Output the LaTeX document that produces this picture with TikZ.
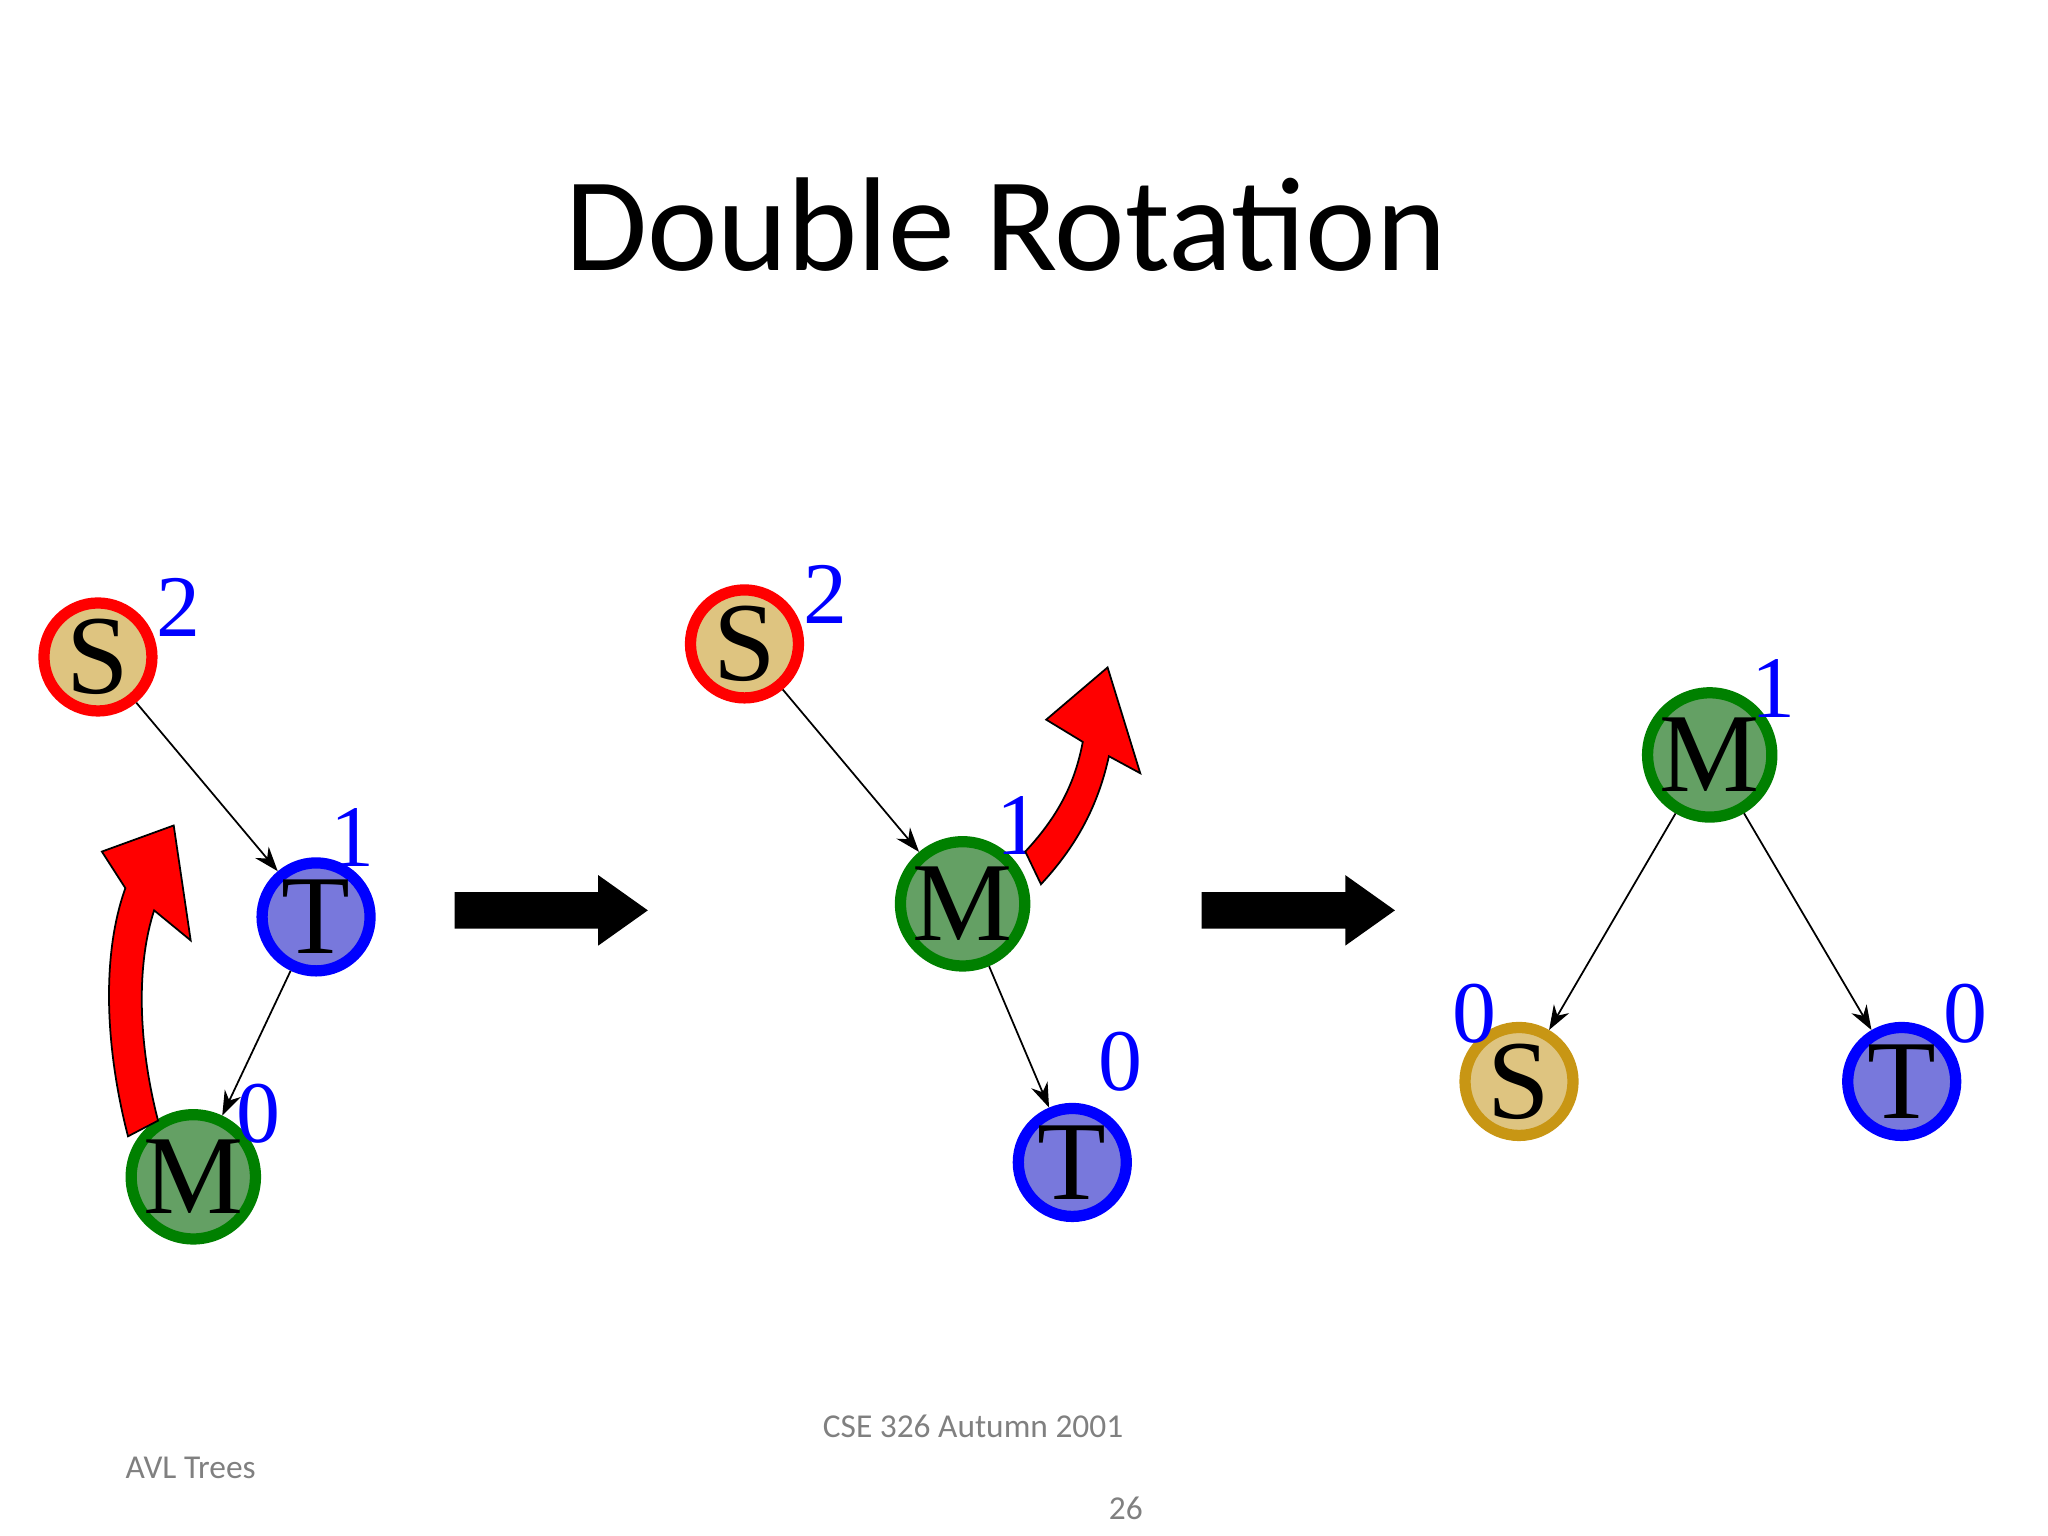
\documentclass[tikz,border=0pt]{standalone}
\usepackage{fontspec}
\setmainfont{Liberation Serif}
\newfontfamily\titlefont{Carlito}
\usetikzlibrary{arrows.meta}
\definecolor{sfill}{RGB}{222,196,128}
\definecolor{mfill}{RGB}{100,160,100}
\definecolor{tfill}{RGB}{120,120,220}
\definecolor{mline}{RGB}{0,128,0}
\definecolor{sgold}{RGB}{200,150,20}
\tikzset{
 tn/.style={circle,line width=3.2pt,minimum size=1.08cm,inner sep=0pt,font=\fontsize{32}{32}\selectfont},
 sn/.style={tn,draw=red,fill=sfill},
 sgn/.style={tn,draw=sgold,fill=sfill},
 mn/.style={tn,draw=mline,fill=mfill},
 tt/.style={tn,draw=blue,fill=tfill},
 num/.style={text=blue,font=\fontsize{25}{25}\selectfont,inner sep=0pt},
 ed/.style={-{Stealth[length=7pt,width=5pt]},line width=0.5pt},
 big/.style={fill=black},
 red arrow/.style={fill=red,draw=black,line width=0.5pt}
}
\begin{document}
\begin{tikzpicture}[x=0.01306cm,y=-0.01306cm]
\useasboundingbox (0,0) rectangle (1568,1176);
\node[font=\titlefont\fontsize{38}{38}\selectfont] (title) at (770,172) {Double Rotation};
\node[text=gray,font=\titlefont\fontsize{9.5}{10}\selectfont] (f1) at (745,1092) {CSE 326 Autumn 2001};
\node[text=gray,font=\titlefont\fontsize{9.5}{10}\selectfont] (f2) at (146,1124) {AVL Trees};
\node[text=gray,font=\titlefont\fontsize{9.5}{10}\selectfont] (f3) at (862,1155) {26};
% left
\node[sn] (s1) at (75,503) {S};
\node[tt] (t1) at (242,702) {T};
\node[mn] (m1) at (148,901) {M};
\node[num] (n1a) at (137,465) {2};
\node[num] (n1b) at (270,641) {1};
\node[num] (n1c) at (198,853) {0};
\draw[ed] (s1) -- (t1);
\draw[ed] (t1) -- (m1);
\draw[red arrow] (98,870) .. controls (80,800) and (78,730) .. (96,680) -- (78,652) -- (133,632) -- (146,720) -- (118,697) .. controls (104,740) and (106,800) .. (121,858) -- cycle;
% middle
\node[sn] (s2) at (570,493) {S};
\node[mn] (m2) at (737,692) {M};
\node[tt] (t2) at (821,890) {T};
\node[num] (n2a) at (632,455) {2};
\node[num] (n2b) at (780,632) {1};
\node[num] (n2c) at (858,813) {0};
\draw[ed] (s2) -- (m2);
\draw[ed] (m2) -- (t2);
\draw[red arrow] (785,652) .. controls (810,625) and (823,600) .. (829,568) -- (801,551) -- (848,511) -- (873,592) -- (849,579) .. controls (840,620) and (822,650) .. (797,677) -- cycle;
% right
\node[mn] (m3) at (1309,578) {M};
\node[sgn] (s3) at (1163,828) {S};
\node[tt] (t3) at (1456,828) {T};
\node[num] (n3a) at (1358,527) {1};
\node[num] (n3b) at (1129,776) {0};
\node[num] (n3c) at (1505,776) {0};
\draw[ed] (m3) -- (s3);
\draw[ed] (m3) -- (t3);
% block arrows
\fill[big] (348,683) -- (458,683) -- (458,670) -- (496,697) -- (458,724) -- (458,711) -- (348,711) -- cycle;
\fill[big] (920,683) -- (1030,683) -- (1030,670) -- (1068,697) -- (1030,724) -- (1030,711) -- (920,711) -- cycle;
\end{tikzpicture}
\end{document}
